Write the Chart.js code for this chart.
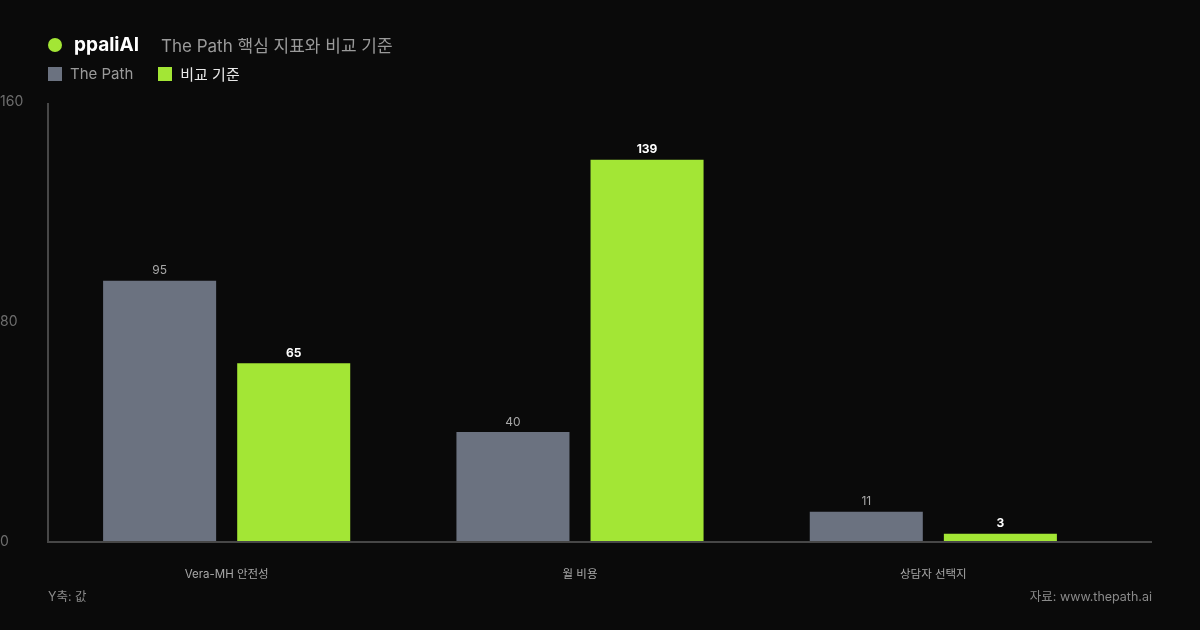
<!DOCTYPE html>
<html>
<head>
<meta charset="utf-8">
<script src="https://cdn.jsdelivr.net/npm/chart.js@4"></script>
<style>
  html, body { margin: 0; padding: 0; background: #0a0a0a; }
  body { width: 1200px; height: 630px; position: relative; overflow: hidden;
         font-family: "Inter", "Noto Sans CJK KR", sans-serif; }
  #wrap { position: absolute; left: 0; top: 0; width: 1200px; height: 630px; }
  .head { position: absolute; left: 48px; top: 32px; display: flex; align-items: center; white-space: nowrap; }
  .dot { width: 14px; height: 14px; border-radius: 50%; background: #a3e635; margin-right: 12px; }
  .brand { color: #fff; font-weight: 700; font-size: 19px; margin-right: 22px; }
  .sub { color: #9a9a9a; font-size: 17px; }
  .legend { position: absolute; left: 48px; top: 63px; display: flex; align-items: center; font-size: 15px; white-space: nowrap; }
  .sw { width: 14px; height: 14px; margin-right: 8px; }
  .foot { position: absolute; top: 586px; font-size: 12.5px; color: #8a8a8a; }
</style>
</head>
<body>
<div id="wrap"><canvas id="myChart" width="1200" height="630"></canvas></div>
<div class="head"><div class="dot"></div><span class="brand">ppaliAI</span><span class="sub">The Path 핵심 지표와 비교 기준</span></div>
<div class="legend">
  <div class="sw" style="background:#6b7280"></div><span style="color:#9a9a9a;margin-right:25px">The Path</span>
  <div class="sw" style="background:#a3e635"></div><span style="color:#e8e8e8">비교 기준</span>
</div>
<div class="foot" style="left:48px">Y축: 값</div>
<div class="foot" style="right:48px">자료: www.thepath.ai</div>
<script>
const categories = ['Vera-MH 안전성', '월 비용', '상담자 선택지']
const thePath = [95, 40, 11]
const baseline = [65, 139, 3]
const yTicks = [0, 80, 160]

const axisLines = {
  id: 'axisLines',
  afterDatasetsDraw(chart) {
    const c = chart.ctx
    const area = chart.chartArea
    c.save()
    c.strokeStyle = '#474747'
    c.lineWidth = 2
    c.beginPath()
    c.moveTo(48, area.top + 1)
    c.lineTo(48, area.bottom)
    c.lineTo(1152, area.bottom)
    c.stroke()
    c.restore()
  }
}

const valueLabels = {
  id: 'valueLabels',
  afterDatasetsDraw(chart) {
    const c = chart.ctx
    c.save()
    c.textAlign = 'center'
    c.textBaseline = 'bottom'
    chart.data.datasets.forEach(function (ds, i) {
      chart.getDatasetMeta(i).data.forEach(function (bar, j) {
        if (i == 0) {
          c.font = '12px Inter, "Noto Sans CJK KR"'
          c.fillStyle = '#a8a8a8'
        } else {
          c.font = 'bold 12px Inter, "Noto Sans CJK KR"'
          c.fillStyle = '#ffffff'
        }
        c.fillText(ds.data[j], bar.x, bar.y - 4)
      })
    })
    c.restore()
  }
}

const ctx = document.getElementById('myChart')
new Chart(ctx, {
  type: 'bar',
  data: {
    labels: categories,
    datasets: [
      { label: 'The Path', data: thePath, backgroundColor: '#6b7280' },
      { label: '비교 기준', data: baseline, backgroundColor: '#a3e635' }
    ]
  },
  options: {
    responsive: false,
    animation: false,
    devicePixelRatio: 1,
    layout: { padding: { top: 102, right: 90, bottom: 48, left: 0 } },
    datasets: { bar: { categoryPercentage: 0.759, barPercentage: 0.843 } },
    plugins: { legend: { display: false }, tooltip: { enabled: false } },
    scales: {
      x: {
        grid: { display: false },
        border: { display: false },
        ticks: { color: '#a8a8a8', font: { size: 11.5, family: 'Inter, "Noto Sans CJK KR"' }, padding: 18 },
        afterFit(s) { s.height = 40 }
      },
      y: {
        min: 0,
        max: 160,
        afterBuildTicks(s) { s.ticks = yTicks.map(v => ({ value: v })) },
        grid: { display: false },
        border: { display: false },
        ticks: { color: '#6e6e6e', font: { size: 14, family: 'Inter, "Noto Sans CJK KR"' }, crossAlign: 'far', padding: 0 },
        afterFit(s) { s.width = 50 }
      }
    }
  },
  plugins: [axisLines, valueLabels]
})
</script>
</body>
</html>
